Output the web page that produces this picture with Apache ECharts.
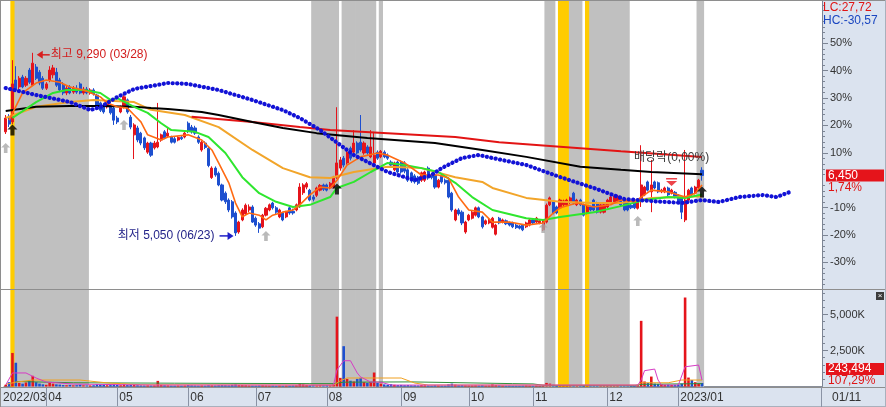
<!DOCTYPE html>
<html><head><meta charset="utf-8">
<script src="https://cdn.jsdelivr.net/npm/echarts@6/dist/echarts.min.js"></script>
<style>html,body{margin:0;padding:0;background:#fff}#c{width:886px;height:407px}</style>
</head><body><div id="c"></div>
<script>
// ---------------- data ----------------
const monthStarts = [0, 12, 33, 54, 74, 95, 117, 137, 156, 178, 199];
const monthLabels = ['2022/03', '04', '05', '06', '07', '08', '09', '10', '11', '12', '2023/01'];
const lastDateLabel = '01/11';
const futureSlots = 35;
const basePrice = 6340;
const pctTicks = [50, 40, 30, 20, 10, -10, -20, -30];
const volTicksK = [2500, 5000];

// [open, close, low, high]
const candles = [
[7460,7780,7410,7850],[7780,7640,7570,7870],[7690,8570,7640,9120],[8660,8430,8380,8980],[8500,8700,8450,8750],
[8730,8500,8470,8780],[8540,8700,8500,8750],[8890,8610,8570,8940],[8540,9050,8520,9290],[8960,8700,8660,9030],
[8840,8590,8540,8890],[8700,8470,8430,8750],[8470,8570,8430,8610],[8660,8890,8610,8980],[8780,8940,8700,9010],
[8840,8540,8500,8940],[8660,8430,8380,8710],[8540,8360,8310,8610],[8360,8470,8310,8520],[8500,8360,8330,8540],
[8380,8470,8340,8520],[8470,8380,8340,8540],[8570,8360,8330,8610],[8360,8450,8320,8500],[8450,8360,8330,8500],
[8360,8430,8320,8470],[8430,8340,8300,8470],[8310,8080,8040,8340],[8130,7960,7920,8160],[8080,7920,7880,8110],
[8040,8150,8000,8180],[8080,7900,7860,8110],[8010,7730,7620,8040],[7780,7690,7640,7830],[7920,8030,7890,8070],
[8040,8270,8000,8310],[8200,7920,7880,8230],[7800,7570,7520,7850],[7390,7620,6830,7660],[7550,7270,7220,7600],
[7430,7200,7150,7460],[7320,7090,7040,7350],[6990,7200,6950,7230],[7200,6920,6880,7230],[7090,7200,7050,7250],
[7110,7220,7080,8130],[7270,7390,7230,7420],[7460,7320,7290,7500],[7360,7430,7330,7550],[7340,7220,7190,7370],
[7300,7220,7190,7340],[7270,7330,7240,7360],[7330,7300,7270,7380],[7340,7430,7310,7460],[7660,7480,7430,7700],
[7570,7460,7420,7620],[7550,7430,7390,7600],[7340,7220,7180,7380],[7040,7220,7000,7260],[7200,7100,7060,7240],
[7080,6680,6640,7110],[6400,6620,6370,6660],[6620,6460,6420,6660],[6500,6230,6200,6540],[6230,5880,5850,6260],
[6040,5840,5790,6080],[5880,5650,5600,5920],[5840,5490,5450,5880],[5580,5120,5050,5620],[5140,5370,5100,5400],
[5420,5650,5390,5690],[5560,5760,5530,5800],[5650,5720,5600,5780],[5720,5370,5350,5760],[5460,5300,5260,5500],
[5330,5230,5120,5370],[5260,5530,5230,5560],[5530,5690,5500,5720],[5650,5770,5620,5800],[5810,5700,5660,5840],
[5700,5600,5560,5740],[5490,5650,5460,5680],[5580,5420,5390,5610],[5490,5600,5460,5630],[5700,5580,5540,5730],
[5620,5580,5540,5680],[5650,5770,5620,5800],[5720,6180,5700,6270],[6050,6230,6000,6270],[6180,6260,6130,6300],
[6110,5880,5850,6140],[5950,5900,5850,6000],[5990,6160,5950,6190],[6110,6220,6080,6250],[6230,6130,6090,6260],
[6230,6110,6080,6260],[6160,6270,6130,6300],[6180,6410,6150,6440],[6410,6740,6370,8030],[6620,6810,6560,6880],
[6850,6690,6640,6900],[6740,6990,6700,7030],[7080,6850,6800,7120],[6990,7200,6950,7500],[7200,6970,6930,7240],
[7220,7040,7000,7850],[6970,7200,6930,7240],[7110,6970,6930,7150],[6880,7110,6850,7500],[6740,6920,6700,7460],
[6990,6850,6810,7030],[6880,7010,6850,7040],[6990,6880,6850,7030],[6920,6850,6810,6960],[6760,6690,6650,6800],
[6580,6740,6550,6770],[6760,6530,6490,6790],[6760,6530,6490,6800],[6740,6550,6500,6780],[6580,6340,6300,6620],
[6510,6320,6280,6540],[6440,6300,6260,6480],[6410,6270,6230,6440],[6340,6510,6300,6540],[6340,6530,6300,6560],
[6620,6390,6350,6660],[6460,6400,6360,6500],[6460,6180,6140,6500],[6180,6340,6150,6370],[6460,6300,6260,6490],
[6340,6280,6240,6380],[6340,5950,5920,6370],[6040,5650,5610,6070],[5420,5650,5390,5680],[5650,5560,5520,5690],
[5600,5350,5300,5640],[5140,5370,5100,5400],[5420,5530,5390,5560],[5460,5600,5430,5630],[5530,5700,5500,5730],
[5700,5490,5460,5730],[5490,5260,5220,5520],[5330,5400,5300,5430],[5350,5420,5320,5450],[5250,5460,5220,5490],
[5090,5300,5060,5330],[5460,5350,5320,5490],[5370,5420,5340,5450],[5400,5330,5300,5430],[5350,5300,5270,5380],
[5350,5260,5230,5380],[5300,5240,5210,5330],[5280,5230,5200,5300],[5300,5190,5160,5320],[5260,5350,5230,5380],
[5300,5420,5270,5450],[5420,5350,5320,5450],[5370,5460,5340,5490],[5350,5400,5320,5430],[5190,5400,5160,5430],
[5370,5760,5340,5800],[5770,5930,5740,5960],[5840,5580,5550,5870],[5720,5580,5550,5750],[5700,5880,5670,5910],
[5770,5860,5740,5890],[5770,5880,5740,5910],[5820,5930,5790,5960],[6040,5810,5780,6070],[5770,5880,5740,5910],
[5880,5770,5740,5910],[5770,5530,5500,5800],[5580,5720,5550,5750],[5720,5650,5620,5750],[5880,5650,5620,5910],
[5810,5600,5570,5840],[5600,5770,5570,5800],[5600,5770,5570,5800],[5720,5880,5690,5910],[5810,5950,5780,5980],
[5840,5950,5810,5980],[5860,5970,5830,6000],[5930,5770,5740,5960],[5880,5650,5620,5910],[5810,5650,5620,5840],
[5760,5700,5670,5790],[5810,5700,5670,5840],[5690,5830,5660,5860],[5930,6230,5720,7150],[6000,6180,5970,6210],
[6300,6110,6080,6330],[6070,6230,5600,6810],[6300,6160,6130,6330],[6280,6070,6040,6310],[6070,6110,6040,6140],
[6070,6160,6040,6190],[6160,6000,5970,6190],[6040,6110,6010,6140],[6060,5950,5920,6090],[5990,5830,5800,6020],
[5930,5600,5440,5960],[5420,5880,5370,7040],[5880,6110,5850,6140],[6160,6000,5970,6190],[6040,6180,6010,6210],
[6160,6340,6130,6370],[6570,6450,6330,6640]
];

// volume in thousands of shares
const volumeK = [
120,300,2330,1650,250,200,280,420,740,300,200,150,
120,250,200,150,130,100,90,110,80,90,120,80,70,80,90,160,130,110,90,100,140,
110,90,150,100,120,130,90,80,70,80,70,75,390,120,90,80,60,60,70,60,70,
100,80,70,60,70,60,90,80,70,90,100,90,80,120,150,110,100,90,70,60,
60,70,80,70,60,60,50,60,50,60,60,70,80,200,150,100,90,80,70,90,80,
90,80,150,4850,600,2800,530,400,350,530,600,300,250,300,970,250,200,150,130,160,120,100,
110,90,100,80,80,70,90,80,70,60,90,70,60,60,150,200,130,90,100,80,
70,70,80,70,90,60,70,150,100,80,60,50,60,50,50,50,60,70,60,
50,60,50,60,250,200,120,90,100,80,70,80,100,70,80,90,70,80,90,80,70,80,
90,100,80,100,80,70,90,70,60,80,4560,350,250,690,200,180,150,120,130,110,120,
130,200,6180,620,450,300,200,243.494
];
const volumeRatioPct = 107.29;

// moving-average style lines: [dayIndex, price]
const ma5 = [[1,7730],[5,8360],[9,8590],[12,8660],[16,8610],[19,8500],[23,8430],[28,8270],[30,8130],[33,8040],[36,8010],[38,7850],[40,7690],[42,7390],[46,7270],[48,7340],[54,7390],[58,7270],[61,7040],[63,6740],[66,6280],[68,5810],[70,5490],[72,5580],[75,5530],[77,5420],[79,5530],[82,5600],[85,5650],[87,5770],[90,6000],[93,6180],[96,6160],[98,6340],[101,6690],[105,6880],[110,6970],[113,6920],[118,6740],[123,6460],[128,6460],[131,6390],[134,5950],[137,5650],[141,5600],[144,5370],[149,5370],[154,5300],[159,5350],[162,5580],[164,5700],[169,5810],[174,5720],[179,5770],[182,5880],[186,5840],[191,6110],[196,6070],[201,5950],[204,6040],[206,6230]];
const ma20 = [[2,7780],[9,8150],[14,8360],[18,8430],[23,8430],[28,8360],[31,8200],[33,8240],[38,8040],[42,7900],[46,7660],[49,7500],[56,7460],[60,7340],[65,6970],[70,6410],[75,6040],[80,5840],[85,5720],[90,5770],[96,5950],[98,6160],[103,6300],[108,6530],[113,6740],[118,6690],[123,6620],[128,6530],[133,6280],[138,5950],[144,5650],[154,5460],[159,5420],[164,5490],[174,5600],[182,5740],[189,5880],[196,5950],[201,5930],[206,6010]];
const ma60 = [[0,7780],[9,8040],[19,8150],[26,8200],[38,8150],[43,7970],[53,7850],[63,7570],[73,7040],[82,6620],[90,6410],[96,6390],[103,6530],[113,6650],[123,6620],[133,6410],[141,6300],[144,6160],[154,5930],[164,5840],[174,5810],[182,5810],[191,5930],[206,5970]];
const ma120 = [[0,7940],[9,8040],[19,8060],[28,8060],[38,8040],[43,8010],[48,7990],[58,7920],[63,7850],[73,7690],[82,7550],[92,7430],[107,7320],[127,7200],[141,7040],[154,6880],[170,6650],[182,6580],[191,6530],[206,6480]];
const ma240 = [[55,7810],[73,7690],[87,7570],[96,7500],[113,7430],[133,7340],[146,7220],[170,7080],[182,7010],[206,6880]];
const leadLine = [[0,8475],[9,8313],[19,8151],[25,7965],[28,8035],[33,8266],[38,8452],[48,8591],[54,8568],[63,8429],[73,8197],[82,7965],[87,7780],[93,7502],[103,6923],[113,6530],[121,6344],[126,6460],[129,6622],[135,6854],[140,6923],[144,6854],[154,6692],[164,6414],[174,6159],[183,5904],[191,5858],[200,5812],[206,5881],[211,5835],[217,5950],[224,5997],[228,5950],[232,6066]];

// volume averages (thousands)
const volMa5 = [[0,100],[2,940],[6,940],[9,590],[12,310],[20,170],[43,100],[97,100],[98,1150],[100,1790],[102,1790],[104,940],[105,660],[108,310],[111,300],[114,100],[187,100],[188,450],[189,1100],[192,1210],[193,450],[194,100],[199,100],[201,1370],[205,1490],[206,450]];
const volMa20 = [[0,150],[3,300],[8,450],[22,450],[30,250],[40,120],[97,100],[99,400],[101,590],[117,590],[121,240],[125,100],[187,100],[188,260],[196,260],[200,450],[206,450]];
const volMa60 = [[3,350],[20,260],[50,230],[90,200],[97,200],[100,300],[120,320],[150,200],[156,180],[160,60],[186,60],[188,150],[206,200]];

// signal markers [dayIndex, price]
const buySignals = [[2,7500],[98,6135],[206,6066]];
const watchSignals = [[0,7085],[35,7618],[77,5050],[159,5233],[187,5395]];
const exDividend = [[197,6300]];
const exDividendText = '배당락(0,00%)';
const highLabel = { idx: 8, date: '03/28' };
const lowLabel = { idx: 68, date: '06/23' };

// shaded periods [startIdx, endIdx]
const grayBands = [[3,24],[91,98],[100,109],[111,111],[160,162],[167,170],[173,184],[205,206]];
const yellowBands = [[2,2],[164,166],[172,172]];

// ---------------- build ----------------
const N = candles.length + futureSlots;
const cats = Array.from({length: N}, (_, i) => String(i));
const F = "'Liberation Sans','Noto Sans CJK KR',sans-serif";
const UP = '#e5141b', DOWN = '#1d4fcf';
const panelBg = '#dbe3ef';
const GL = 4, GR = 64;

function bandData(bands){
  const a = new Array(N).fill('-');
  bands.forEach(([s,e]) => { for (let i = s; i <= e; i++) a[i] = 1; });
  return a;
}
const lows = candles.map(c => c[2]), highs = candles.map(c => c[3]);
const lowVal = Math.min(...lows), highVal = Math.max(...highs);
const lastClose = candles[candles.length-1][1];
const pct = v => (v / basePrice - 1) * 100;
const fmtDec = v => v.toFixed(2).replace('.', ',');
const fmtInt = v => Math.round(v).toLocaleString('en-US');

// layout of the percent scale (0% at y=180.2, 10% = 27.375px, panel 0..289)
const pctTop = 180.2 / 2.7375, pctBottom = (180.2 - 289) / 2.7375;
const yMax = basePrice * (1 + pctTop / 100), yMin = basePrice * (1 + pctBottom / 100);
const majorPrice = pctTicks.map(p => basePrice * (1 + p / 100));
const minorPrice = [];
for (let p = -38; p <= 64; p += 2) if (p % 10 !== 0) minorPrice.push(basePrice * (1 + p / 100));
const volMax = 96.5 / 36 * 2500;
const volMinor = [];
for (let v = 500; v < volMax; v += 500) if (v % 2500 !== 0) volMinor.push(v);

const volBars = volumeK.map((v, i) => ({ value: v, itemStyle: { color: candles[i][1] >= candles[i][0] ? UP : DOWN } }));

const lineS = (data, color, width, extra) => Object.assign({
  type: 'line', xAxisIndex: 1, yAxisIndex: 1, data, symbol: 'none', silent: true,
  lineStyle: { color, width }, z: 4
}, extra || {});

const arrowUp = 'path://M5,0L10,5L7,5L7,11L3,11L3,5L0,5Z';
const arrowDown = 'path://M0,0L10,0L10,1.6L0,1.6Z M0,3L10,3L5,8Z';
const isMonthStart = i => monthStarts.includes(i) && i !== 0;

const option = {
  animation: false,
  backgroundColor: '#ffffff',
  textStyle: { fontFamily: F },
  grid: [
    { left: GL, right: GR, top: 1, height: 386, show: false },
    { left: GL, right: GR, top: 0, height: 289, show: false },
    { left: GL, right: GR, top: 290, bottom: 20.5, show: false }
  ],
  xAxis: [0,1,2].map(g => ({
    gridIndex: g, type: 'category', data: cats, boundaryGap: true,
    show: g === 2,
    axisLine: { show: g === 2, lineStyle: { color: '#8a8f99' } },
    axisTick: { show: g === 2, alignWithLabel: true, interval: isMonthStart, length: 20, lineStyle: { color: '#8a93a5' } },
    axisLabel: { show: g === 2, interval: isMonthStart, showMinLabel: true, showMaxLabel: true, hideOverlap: false,
      formatter: (v, i) => monthLabels[monthStarts.indexOf(i)] || '',
      align: 'left', margin: 5, padding: [0,0,0,2], color: '#333', fontSize: 12, fontFamily: F },
    splitLine: { show: false }
  })),
  yAxis: [
    { gridIndex: 0, min: 0, max: 1, show: false },
    { gridIndex: 1, position: 'right', min: yMin, max: yMax, scale: true,
      axisLine: { show: true, lineStyle: { color: '#7d8594' } },
      axisTick: { show: true, customValues: minorPrice, length: 3, lineStyle: { color: '#7d8594' } },
      axisLabel: { show: false }, splitLine: { show: false } },
    { gridIndex: 1, position: 'right', min: yMin, max: yMax, scale: true,
      axisLine: { show: false },
      axisTick: { show: true, customValues: majorPrice, length: 6, lineStyle: { color: '#7d8594' } },
      axisLabel: { show: true, customValues: majorPrice, margin: 8, color: '#333', fontSize: 11, fontFamily: F,
        formatter: v => Math.round(pct(v)) + '%' },
      splitLine: { show: false } },
    { gridIndex: 2, position: 'right', min: 0, max: volMax,
      axisLine: { show: true, lineStyle: { color: '#7d8594' } },
      axisTick: { show: true, customValues: volTicksK, length: 6, lineStyle: { color: '#7d8594' } },
      axisLabel: { show: true, customValues: volTicksK, margin: 8, color: '#333', fontSize: 11, fontFamily: F,
        formatter: v => fmtInt(v) + 'K' },
      splitLine: { show: false } },
    { gridIndex: 2, position: 'right', min: 0, max: volMax,
      axisLine: { show: false },
      axisTick: { show: true, customValues: volMinor, length: 3, lineStyle: { color: '#7d8594' } },
      axisLabel: { show: false }, splitLine: { show: false } }
  ],
  series: [
    { type: 'bar', xAxisIndex: 0, yAxisIndex: 0, data: bandData(grayBands), barWidth: 4.2, barGap: '-100%',
      itemStyle: { color: '#c0c0c0' }, silent: true, z: 0 },
    { type: 'bar', xAxisIndex: 0, yAxisIndex: 0, data: bandData(yellowBands), barWidth: 4.2, barGap: '-100%',
      itemStyle: { color: '#ffcc00' }, silent: true, z: 0 },
    { type: 'candlestick', xAxisIndex: 1, yAxisIndex: 1, data: candles, barWidth: 2.6, silent: true, z: 3,
      itemStyle: { color: UP, color0: DOWN, borderColor: UP, borderColor0: DOWN, borderWidth: 1 } },
    lineS(ma60, '#f2a52a', 2),
    lineS(ma240, '#e31414', 2),
    lineS(ma120, '#000000', 2),
    lineS(ma20, '#2ee62e', 2),
    lineS(ma5, '#ff6a12', 1.6),
    lineS(leadLine, '#1212d6', 4.2, { lineStyle: { color: '#1212d6', width: 4.2, type: [0.1, 4.4], cap: 'round' }, z: 5 }),
    { type: 'scatter', xAxisIndex: 1, yAxisIndex: 1, data: buySignals, symbol: arrowUp, symbolSize: [10, 11],
      itemStyle: { color: '#000' }, silent: true, z: 6 },
    { type: 'scatter', xAxisIndex: 1, yAxisIndex: 1, data: watchSignals, symbol: arrowUp, symbolSize: [9, 10],
      itemStyle: { color: '#a9a9a9' }, silent: true, z: 6 },
    { type: 'scatter', xAxisIndex: 1, yAxisIndex: 1, data: exDividend, symbol: arrowDown, symbolSize: [11, 8],
      itemStyle: { color: '#e8141b' }, silent: true, z: 6 },
    { type: 'bar', xAxisIndex: 2, yAxisIndex: 3, data: volBars, barWidth: 2.6, silent: true, z: 3 },
    { type: 'line', xAxisIndex: 2, yAxisIndex: 3, data: volMa60, symbol: 'none', lineStyle: { color: '#2f8f3a', width: 1 }, silent: true, z: 4 },
    { type: 'line', xAxisIndex: 2, yAxisIndex: 3, data: volMa20, symbol: 'none', lineStyle: { color: '#f0a020', width: 1 }, silent: true, z: 4 },
    { type: 'line', xAxisIndex: 2, yAxisIndex: 3, data: volMa5, symbol: 'none', lineStyle: { color: '#d63bc4', width: 1 }, silent: true, z: 4 }
  ]
};

const chart = echarts.init(document.getElementById('c'), null, { renderer: 'canvas' });
chart.setOption(option);

// ---------------- annotations ----------------
const toPx = pt => chart.convertToPixel({ xAxisIndex: 1, yAxisIndex: 1 }, pt);
const g = [];
g.push({ type: 'rect', shape: { x: 822, y: 0, width: 64, height: 388 }, style: { fill: panelBg }, z: -10, silent: true });
g.push({ type: 'rect', shape: { x: 0, y: 387, width: 886, height: 20 }, style: { fill: panelBg }, z: -10, silent: true });
const hline = (y, x1, x2, c) => g.push({ type: 'line', shape: { x1, y1: y, x2, y2: y }, style: { stroke: c, lineWidth: 1 }, z: 50, silent: true });
const vline = (x, y1, y2, c) => g.push({ type: 'line', shape: { x1: x, y1, x2: x, y2 }, style: { stroke: c, lineWidth: 1 }, z: 50, silent: true });
hline(0.5, 0, 886, '#8e8e8e');
hline(289.5, 0, 886, '#8e8e8e');
hline(387.5, 0, 886, '#8e8e8e');
hline(406.5, 0, 886, '#a9b0bc');
vline(0.5, 0, 407, '#8e8e8e');
vline(821.5, 387, 407, '#8a93a5');
vline(885.5, 0, 407, '#a9b0bc');

// first month label (axis start)
g.push({ type: 'text', x: 3, y: 398, style: { text: monthLabels[0], fill: '#333', font: '12px ' + F, textVerticalAlign: 'middle' }, z: 60 });

// high / low callouts
const hp = toPx([highLabel.idx, highVal]);
const hx = hp[0] + 4, hy = hp[1] + 2;
g.push({ type: 'line', shape: { x1: hx + 4, y1: hy, x2: hx + 13, y2: hy }, style: { stroke: '#d81e1e', lineWidth: 1.5 }, z: 60 });
g.push({ type: 'polygon', shape: { points: [[hx, hy], [hx + 6, hy - 4], [hx + 6, hy + 4]] }, style: { fill: '#d81e1e' }, z: 60 });
g.push({ type: 'text', x: hx + 14, y: hy, style: { text: '최고 ' + fmtInt(highVal) + ' (' + highLabel.date + ')', fill: '#d21c1c', font: '12px ' + F, textVerticalAlign: 'middle' }, z: 60 });
const lp = toPx([lowLabel.idx, lowVal]);
const lx = lp[0] - 2, ly = lp[1];
g.push({ type: 'line', shape: { x1: lx - 14, y1: ly, x2: lx - 4, y2: ly }, style: { stroke: '#1e1ec8', lineWidth: 1.5 }, z: 60 });
g.push({ type: 'polygon', shape: { points: [[lx, ly], [lx - 6, ly - 4], [lx - 6, ly + 4]] }, style: { fill: '#1e1ec8' }, z: 60 });
g.push({ type: 'text', x: lx - 19, y: ly, style: { text: '최저 ' + fmtInt(lowVal) + ' (' + lowLabel.date + ')', fill: '#25258a', font: '12px ' + F, textAlign: 'right', textVerticalAlign: 'middle' }, z: 60 });
const dp = toPx(exDividend[0]);
g.push({ type: 'text', x: dp[0], y: dp[1] - 24, style: { text: exDividendText, fill: '#3a3a3a', font: '12px ' + F, textAlign: 'center', textVerticalAlign: 'middle' }, z: 60 });

// right axis info
g.push({ type: 'text', x: 823, y: 8, style: { text: 'LC:' + fmtDec((lastClose / lowVal - 1) * 100), fill: '#e01414', font: '12px ' + F, textVerticalAlign: 'middle' }, z: 60 });
g.push({ type: 'text', x: 823, y: 21, style: { text: 'HC:' + fmtDec((lastClose / highVal - 1) * 100), fill: '#1a46c0', font: '12px ' + F, textVerticalAlign: 'middle' }, z: 60 });
const py = chart.convertToPixel({ yAxisIndex: 1 }, lastClose);
g.push({ type: 'rect', shape: { x: 826, y: py - 6, width: 58, height: 12 }, style: { fill: '#e5141b' }, z: 60 });
g.push({ type: 'text', x: 828, y: py, style: { text: fmtInt(lastClose), fill: '#fff', font: '12px ' + F, textVerticalAlign: 'middle' }, z: 61 });
g.push({ type: 'text', x: 828, y: py + 12, style: { text: fmtDec(pct(lastClose)) + '%', fill: '#e01414', font: '12px ' + F, textVerticalAlign: 'middle' }, z: 60 });
const lastVol = volumeK[volumeK.length - 1] * 1000;
g.push({ type: 'rect', shape: { x: 826, y: 363, width: 58, height: 12 }, style: { fill: '#e5141b' }, z: 60 });
g.push({ type: 'text', x: 828, y: 369, style: { text: fmtInt(lastVol), fill: '#fff', font: '12px ' + F, textVerticalAlign: 'middle' }, z: 61 });
g.push({ type: 'text', x: 828, y: 381, style: { text: fmtDec(volumeRatioPct) + '%', fill: '#e01414', font: '12px ' + F, textVerticalAlign: 'middle' }, z: 60 });
g.push({ type: 'text', x: 832, y: 398, style: { text: lastDateLabel, fill: '#333', font: '12px ' + F, textVerticalAlign: 'middle' }, z: 60 });
g.push({ type: 'rect', shape: { x: 876, y: 292, width: 8, height: 8 }, style: { fill: '#3c3c3c' }, z: 60 });
g.push({ type: 'text', x: 880, y: 296, style: { text: '×', fill: '#fff', font: '8px ' + F, textAlign: 'center', textVerticalAlign: 'middle' }, z: 61 });

chart.setOption({ graphic: g });
</script>
</body></html>
